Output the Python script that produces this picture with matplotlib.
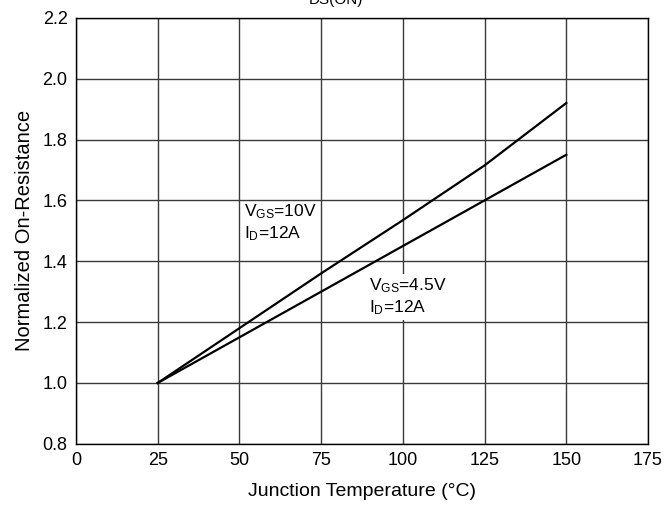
import matplotlib
matplotlib.use('Agg')
import matplotlib.pyplot as plt

plt.rcParams['font.family'] = ['Liberation Sans', 'DejaVu Sans']
plt.rcParams['mathtext.fontset'] = 'custom'
plt.rcParams['mathtext.rm'] = 'Liberation Sans'

temps = [25, 50, 75, 100, 125, 150]
r_10v = [1.0, 1.18, 1.36, 1.535, 1.715, 1.92]
r_4v5 = [1.0, 1.15, 1.30, 1.45, 1.60, 1.75]
x_ticks = [0, 25, 50, 75, 100, 125, 150, 175]
y_ticks = [0.8, 1.0, 1.2, 1.4, 1.6, 1.8, 2.0, 2.2]

fig = plt.figure(figsize=(6.66, 5.09), dpi=100)
ax = fig.add_axes([0.114, 0.128, 0.859, 0.837])

ax.plot(temps, r_10v, color='black', linewidth=1.6, zorder=3)
ax.plot(temps, r_4v5, color='black', linewidth=1.6, zorder=3)

ax.set_xlim(0, 175)
ax.set_ylim(0.8, 2.2)
ax.set_xticks(x_ticks)
ax.set_yticks(y_ticks)
ax.set_yticklabels([f'{v:.1f}' for v in y_ticks])
ax.tick_params(length=0, pad=6, labelsize=13)
ax.grid(True, color='#3a3a3a', linewidth=1.0)
for s in ax.spines.values():
    s.set_color('black')
    s.set_linewidth(1.0)

ax.set_xlabel('Junction Temperature (°C)', fontsize=14, labelpad=10)
ax.set_ylabel('Normalized On-Resistance', fontsize=14.5, labelpad=6)

ax.text(51.5, 1.595, '$\\mathregular{V_{GS}}$=10V\n$\\mathregular{I_D}$=12A',
        fontsize=12.5, va='top', ha='left', linespacing=1.25, zorder=4)
ax.text(89.5, 1.35, '$\\mathregular{V_{GS}}$=4.5V\n$\\mathregular{I_D}$=12A',
        fontsize=12.5, va='top', ha='left', linespacing=1.25, zorder=4,
        bbox=dict(facecolor='white', edgecolor='none', pad=2))

fig.text(0.505, 1 - 4 / 509, 'DS(ON)', fontsize=11, ha='center', va='baseline')

fig.savefig('out.png', dpi=100)
